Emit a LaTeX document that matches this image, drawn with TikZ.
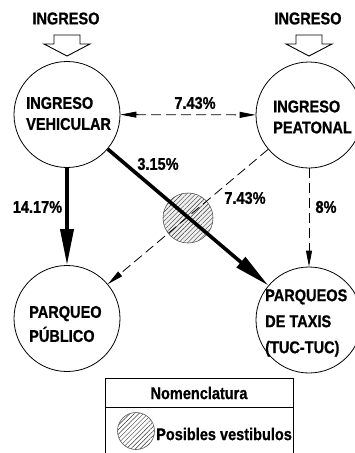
\documentclass[tikz,border=0pt]{standalone}
\usepackage{fontspec}
\setmainfont{Liberation Sans}[FakeStretch=0.855, BoldFeatures={FakeBold=0.8}]
\usetikzlibrary{arrows.meta,patterns.meta}
\begin{document}
\begin{tikzpicture}[x=1pt,y=-1pt,
  txt/.style={font=\fontsize{17}{21}\selectfont\bfseries, inner sep=0pt},
  ctxt/.style={txt, align=left, anchor=west},
  place/.style={circle, draw, line width=0.8pt, minimum size=106pt, inner sep=0pt},
  vest/.style={circle, draw=gray!70!black, line width=0.6pt, inner sep=0pt,
     preaction={fill=gray!12},
     pattern={Lines[angle=45,distance=3.2pt,line width=0.45pt]}, pattern color=gray!40!black},
  bigarrow/.style={line width=3.6pt, -{Triangle[length=36pt,width=13pt]}},
  dasharrow/.style={line width=0.8pt, dash pattern=on 10pt off 5pt, -{Triangle[length=16pt,width=6pt]}},
  entry/.style={draw, line width=0.9pt, fill=white, line join=miter}
]
\useasboundingbox (0,0) rectangle (355,453);

% vestibule
\node[vest, minimum size=50pt] (ves) at (188,218) {};

% circles
\node[place] (vh) at (67,114.5) {};
\node[place] (pe) at (309,115) {};
\node[place] (pp) at (67,318.5) {};
\node[place] (tx) at (309,320) {};

% circle texts
\node[ctxt] (tvh) at (26,113.5) {INGRESO\\VEHICULAR};
\node[ctxt] (tpe) at (273,117) {INGRESO\\PEATONAL};
\node[ctxt, font=\fontsize{17}{24}\selectfont\bfseries] (tpp) at (29,324) {PARQUEO\\PÚBLICO};
\node[ctxt, font=\fontsize{17}{26}\selectfont\bfseries] (ttx) at (265,323) {PARQUEOS\\DE TAXIS\\(TUC-TUC)};

% entries
\node[txt] (in1) at (66,18.5) {INGRESO};
\node[txt] (in2) at (308,18.5) {INGRESO};
\draw[entry] (54,35) -- (80,35) -- (80,44) -- (90,44) -- (67,56) -- (44,44) -- (54,44) -- cycle;
\draw[entry] (296,35) -- (322,35) -- (322,44) -- (332,44) -- (309,56) -- (286,44) -- (296,44) -- cycle;

% connectors
\draw[dasharrow, {Triangle[length=16pt,width=6pt]}-{Triangle[length=16pt,width=6pt]}] (vh) -- (pe);
\draw[dasharrow] (pe) -- (pp);
\draw[dasharrow] (pe) -- (tx);
\draw[bigarrow] (vh) -- (pp);
\draw[bigarrow] (vh) -- (tx);

% labels
\node[txt] (l1) at (195,103) {7.43\%};
\node[txt] (l2) at (158,164) {3.15\%};
\node[txt] (l3) at (37.5,207) {14.17\%};
\node[txt] (l4) at (245,198) {7.43\%};
\node[txt] (l5) at (326,207) {8\%};

% legend
\draw[line width=0.8pt] (105,460) -- (105,378) -- (293,378) -- (293,460);
\draw[line width=0.8pt] (105,407) -- (293,407);
\node[txt] (nom) at (199,393) {Nomenclatura};
\node[vest, minimum size=37pt, preaction={fill=white}] (lv) at (136,431) {};
\node[txt, anchor=west] (lvt) at (156,434) {Posibles vestibulos};
\end{tikzpicture}
\end{document}
